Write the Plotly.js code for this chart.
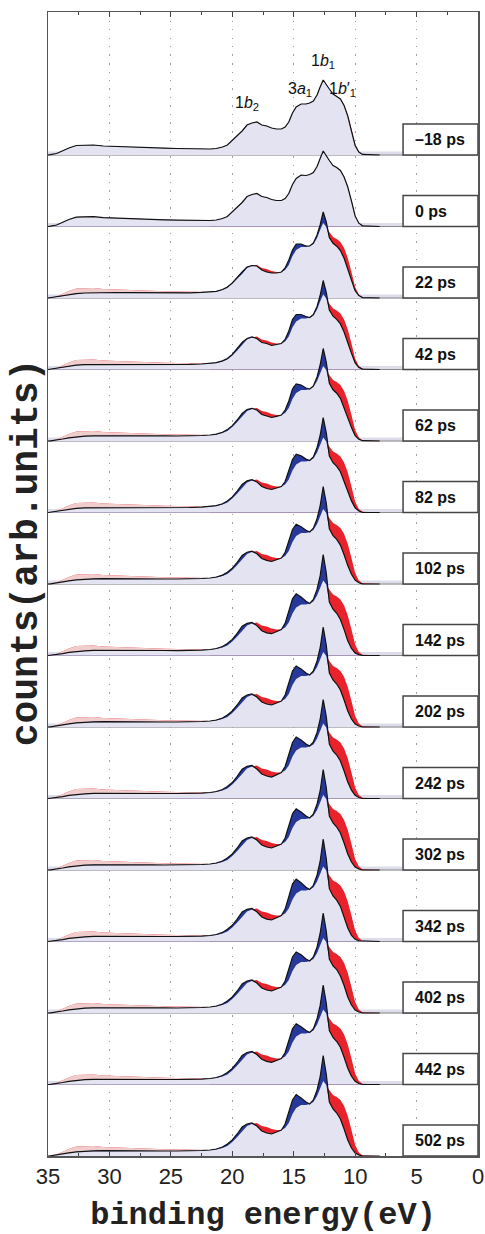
<!DOCTYPE html>
<html>
<head>
<meta charset="utf-8">
<script src="https://cdn.plot.ly/plotly-3.0.1.min.js"></script>
<style>html,body{margin:0;padding:0;background:#fff;}#chart{width:485px;height:1234px;}</style>
</head>
<body>
<div id="chart"></div>
<script>
// binding energy grid (eV)
const energy = [8.0, 9.4, 9.7, 10.0, 10.3, 10.6, 10.9, 11.2, 11.5, 11.8, 12.1, 12.35, 12.6, 12.85, 13.1, 13.4, 13.7, 14.0, 14.4, 14.8, 15.1, 15.4, 15.7, 16.0, 16.4, 16.8, 17.2, 17.6, 18.0, 18.4, 18.8, 19.2, 19.6, 20.0, 20.4, 20.8, 21.3, 21.8, 22.5, 23.5, 24.5, 25.5, 26.5, 27.5, 28.5, 29.5, 30.5, 31.3, 32.0, 32.7, 33.3, 33.8, 34.3, 34.8, 35.0];

// reference (unpumped) spectrum, arb. units
const refCounts = [0,0.8,3.5,11,26,40,50,56,59,61,66,71,75,68,60,54,52,51,51,48,42,33,28,26,26,27,29,30,33,32,30,24,19,14,10,8,6.5,6, 6,6,6.5,6.8,7.2,7.6,8,8.5,9,10,10,9.5,7,4,1.5,0.3,0];

const delays = ["\u201318 ps","0 ps","22 ps","42 ps","62 ps","82 ps","102 ps","142 ps","202 ps","242 ps","302 ps","342 ps","402 ps","442 ps","502 ps"];

const c_m18 = [0,0.6,3,9.5,24,39,49.5,56,58.5,61,66,71,75,68,60,54,52,51,51,48,42,33,28,26,26,27,29,30,33,32,30,24,19,14,10,8,6.5,6, 6,6,6.5,6.8,7.2,7.6,8,8.5,9,10,10,9.5,7,4,1.5,0.3,0];
const c_0 = [0,0.7,3.3,10.5,25.5,39.5,49.5,56,59,61,66,71.5,75.5,68,60,54,52,51,51.5,48,42,33,28,26,26,27,29,30,33,32,30,24,19,14,10,8,6.5,6, 6,5.9,6.4,6.7,7.1,7.5,7.9,8.4,8.9,9.8,9.9,9.4,7,4,1.5,0.3,0];
const c_22 = [0,0.4,2.4,7.4,17.9,29.2,39.7,47.5,51.8,54.7,60.6,76,86,73,63,55,52,52,54,54,48,38,30,26,25,25,26,28,32,32.5,31,26,20,15,11,8.5,6.7,6, 5.6,5.2,5.1,5.2,5.3,5.4,5.4,5.5,5.5,5.3,5,4.4,3.3,2,0.8,0.2,0];
const c_42 = [0,0.4,2.1,6.6,16.1,26.8,37.4,45.6,50.2,53.3,59.4,77,89,74,63,55,52,53,55,55,50,38.5,30,26,25,24,26,27,31,32.5,31,27,21,15,11,8.6,6.8,6, 5.5,5.1,5.1,5.1,5.2,5.3,5.3,5.4,5.4,5.2,4.9,4.3,3.2,2,0.8,0.2,0];
const c_62 = [0,0.3,1.8,5.4,13.4,23.2,33.9,42.7,47.8,51.2,57.6,79,92.5,76,64,55,52,53,56,57,52,40,31,26,24.6,23.5,25,26.5,31,32.7,31.4,27.5,21,15.4,11.4,8.7,6.9,6, 5.5,5,5,5.1,5.2,5.2,5.3,5.3,5.4,5.2,4.8,4.2,3.2,2,0.8,0.2,0];
const c_82 = [0,0.2,1.5,4.6,11.6,20.8,31.6,40.8,46.2,49.8,56.4,80,95,77,65,55.6,52,53.4,56.6,58.4,53,41,31,26,24.4,23,24,26,30.6,32.8,31.6,28,21.4,15.6,11.6,8.8,6.9,6, 5.4,5,5,5,5.1,5.2,5.2,5.3,5.3,5.1,4.7,4.1,3.1,1.9,0.8,0.2,0];
const c_102 = [0,0.1,1.25,3.8,9.8,18.4,29.3,38.9,44.6,48.4,55.2,81,97.5,78,65.4,55.8,52,53.7,57.3,59.7,54.6,42,31.6,26,24.2,22.5,23.6,25.5,30.3,32.9,31.8,28.5,21.7,15.8,11.8,8.9,7,6, 5.5,5,5,5,5.2,5.2,5.3,5.3,5.4,5.2,4.8,4.2,3.2,2,0.8,0.2,0];
const c_142 = [0,0,0.9,2.6,7.1,14.8,25.9,36,42.2,46.3,53.4,82.6,101,79.6,66.3,56,52,54.2,58.4,61.7,56.7,43.5,32.2,26,23.9,21.8,22.7,24.8,29.9,33.1,32.1,29.3,22.2,16.1,12.1,9,7,6, 5.4,5,4.9,5,5.1,5.1,5.2,5.3,5.3,5.1,4.7,4.1,3.1,1.9,0.8,0.2,0];
const c_202 = [0,0,1,3,8,16,27,37,43,47,54,82,100,79,66,56,52,54,58,61,56,43,32,26,24,22,23,25,30,33,32,29,22,16,12,9,7,6, 5.5,5,5,5,5.2,5.2,5.3,5.3,5.4,5.2,4.8,4.2,3.2,2,0.8,0.2,0];
const c_242 = [0,0,1,3.2,8.3,16.5,27.5,37.5,43.5,47.3,54.5,82,99,79,66,56.5,52.5,54.5,58.5,61.5,56,43,32,26,23.5,21.5,22.5,24.5,29.5,33,32.2,29.2,22.2,16,12,9,7,6, 5.4,5,5,5,5.1,5.2,5.2,5.3,5.3,5.1,4.7,4.1,3.1,1.9,0.8,0.2,0];
const c_302 = [0,0,1,3,8,16,27,37,43,47,54,82.5,100.5,79,66,56,52,54,58,61.2,56.2,43.2,32,26,24,22,23,25,30,33,32,29,22,16,12,9,7,6, 5.5,5.1,5,5,5.1,5.2,5.3,5.3,5.4,5.2,4.8,4.2,3.2,2,0.8,0.2,0];
const c_342 = [0,0,0.75,2.2,6.2,13.6,24.7,35.1,41.4,45.6,52.8,83,102.5,80,66.6,56.2,52,54.3,58.7,62.3,57.4,44,32.4,26,23.8,21.5,22.4,24.5,29.7,33.1,32.2,29.5,22.3,16.2,12.2,9.1,7,6, 5.4,5,5,5,5.1,5.1,5.2,5.2,5.3,5.1,4.7,4.1,3.1,1.9,0.8,0.2,0];
const c_402 = [0,0,1,3,8,16,27.5,37,43.5,47,54,82,100,79.5,66,56,52,54,58.2,61,56,43,32,26,24,22,23,25,30,33,32,29,22,16,12,9,7,6, 5.5,5,5,5.1,5.2,5.2,5.3,5.3,5.4,5.2,4.8,4.2,3.2,2,0.8,0.2,0];
const c_442 = [0,0,1,3.2,8.2,16.2,27.2,37.2,43,47,54,81.5,99.5,78.8,65.8,55.8,52,54,57.8,60.8,55.8,43,32,26,24,22.2,23.2,25.2,30,33,32,29,22,16,12,9,7,6, 5.4,5,5,5,5.1,5.2,5.2,5.3,5.3,5.1,4.8,4.2,3.2,2,0.8,0.2,0];
const c_502 = [0,0,1,3,8,16,27,37,43,47,54,82,100.5,79,66,56,52,54,58,61.5,56,43,32,26,24,22,23,25,30,33,32,29,22,16,12,9,7,6, 5.5,5,5,5,5.2,5.2,5.3,5.3,5.4,5.2,4.8,4.2,3.2,2,0.8,0.2,0];

const spectra = [c_m18,c_0,c_22,c_42,c_62,c_82,c_102,c_142,c_202,c_242,c_302,c_342,c_402,c_442,c_502];

const xTicks = [35,30,25,20,15,10,5,0];

// layout constants
const PANEL = 71.5;
const YTOP = 1144;
const FAR_START = 37; // index where the pale (pink) colouring starts
const COL_LAV = '#e3e3f1', COL_BLUE = '#26399b', COL_RED = '#e8232b', COL_PINK = '#f1cccc';

const traces = [];
const shapes = [];
const annotations = [];
const n = spectra.length;
for (let i = 0; i < n; i++) {
  const base = (n - 1 - i) * PANEL;
  const cur = spectra[i];
  const poly = (xs, ys, color) => ({
    x: xs, y: ys, type: 'scatter', mode: 'lines', fill: 'toself',
    fillcolor: color, line: {width: 0, color: color}, hoverinfo: 'skip', showlegend: false
  });
  traces.push(poly(energy, refCounts.map(v => v + base), COL_RED));
  traces.push(poly([energy[FAR_START]].concat(energy.slice(FAR_START)),
                   [base].concat(refCounts.slice(FAR_START).map(v => v + base)), COL_PINK));
  traces.push(poly(energy, cur.map(v => v + base), COL_BLUE));
  traces.push(poly(energy, cur.map((v, k) => Math.min(v, refCounts[k]) + base), COL_LAV));
  traces.push({x: energy, y: cur.map(v => v + base), type: 'scatter', mode: 'lines',
               line: {color: '#111', width: 1.2}, hoverinfo: 'skip', showlegend: false});

  if (i < n - 1) {
    shapes.push({type: 'line', xref: 'paper', x0: 0, x1: 1, yref: 'y', y0: base + 1.5, y1: base + 1.5,
                 line: {color: '#dcdcea', width: 4}, layer: 'below'});
    shapes.push({type: 'line', xref: 'paper', x0: 0, x1: 1, yref: 'y', y0: base, y1: base,
                 line: {color: '#8a8a8a', width: 1}, layer: 'below'});
  }
  shapes.push({type: 'rect', xref: 'x', yref: 'y', x0: 6.1, x1: 0, y0: base, y1: base + 31,
               line: {color: '#444', width: 1.5}, fillcolor: '#fff', layer: 'above'});
  annotations.push({x: 5.3, y: base + 15.5, xref: 'x', yref: 'y', text: '<b>' + delays[i] + '</b>',
                    showarrow: false, xanchor: 'left', yanchor: 'middle',
                    font: {family: 'Liberation Sans, Arial, sans-serif', size: 16, color: '#111'}});
}

const peakFont = {family: 'Liberation Sans, Arial, sans-serif', size: 16, color: '#111'};
const topBase = (n - 1) * PANEL;
[
  {x: 18.8, y: 52, t: '1<i>b</i><sub>2</sub>'},
  {x: 14.5, y: 66, t: '3<i>a</i><sub>1</sub>'},
  {x: 12.6, y: 94, t: '1<i>b</i><sub>1</sub>'},
  {x: 11.0, y: 66, t: '1<i>b</i>\u2032<sub>1</sub>'}
].forEach(p => annotations.push({x: p.x, y: topBase + p.y, xref: 'x', yref: 'y', text: p.t,
  showarrow: false, xanchor: 'center', yanchor: 'middle', font: peakFont}));

// y-axis title (placed as rotated text, centred like the original)
annotations.push({xref: 'paper', yref: 'paper', x: -0.048, y: 0.528, xanchor: 'center', yanchor: 'middle',
  textangle: -90, showarrow: false, text: '<b>counts(arb.units)</b>',
  font: {family: 'Courier New, Liberation Mono, monospace', size: 38, color: '#222'}});

const layout = {
  width: 485, height: 1234,
  margin: {l: 48, r: 7, t: 12, b: 78},
  paper_bgcolor: '#fff', plot_bgcolor: '#fff',
  showlegend: false,
  xaxis: {
    range: [35, 0], tickvals: xTicks, ticktext: xTicks.map(String),
    ticks: 'inside', ticklen: 5, tickcolor: '#444', tickwidth: 1,
    showline: true, linecolor: '#555', linewidth: 1.5, mirror: 'ticks',
    showgrid: true, gridcolor: '#a0a0a0', gridwidth: 1.2, griddash: '1.5px,7px',
    zeroline: false,
    minor: {dtick: 2.5, tick0: 0, ticks: 'inside', ticklen: 3, tickcolor: '#444', showgrid: false},
    tickfont: {family: 'Liberation Sans, Arial, sans-serif', size: 22, color: '#222'},
    title: {text: '<b>binding energy(eV)</b>', standoff: 16,
            font: {family: 'Courier New, Liberation Mono, monospace', size: 32, color: '#222'}},
    automargin: false
  },
  yaxis: {
    range: [0, YTOP], showticklabels: false, ticks: '', showgrid: false, zeroline: false,
    showline: true, linecolor: '#555', linewidth: 1.5, mirror: true,
    automargin: false
  },
  shapes: shapes,
  annotations: annotations
};

Plotly.newPlot('chart', traces, layout, {staticPlot: true, displayModeBar: false});
</script>
</body>
</html>
